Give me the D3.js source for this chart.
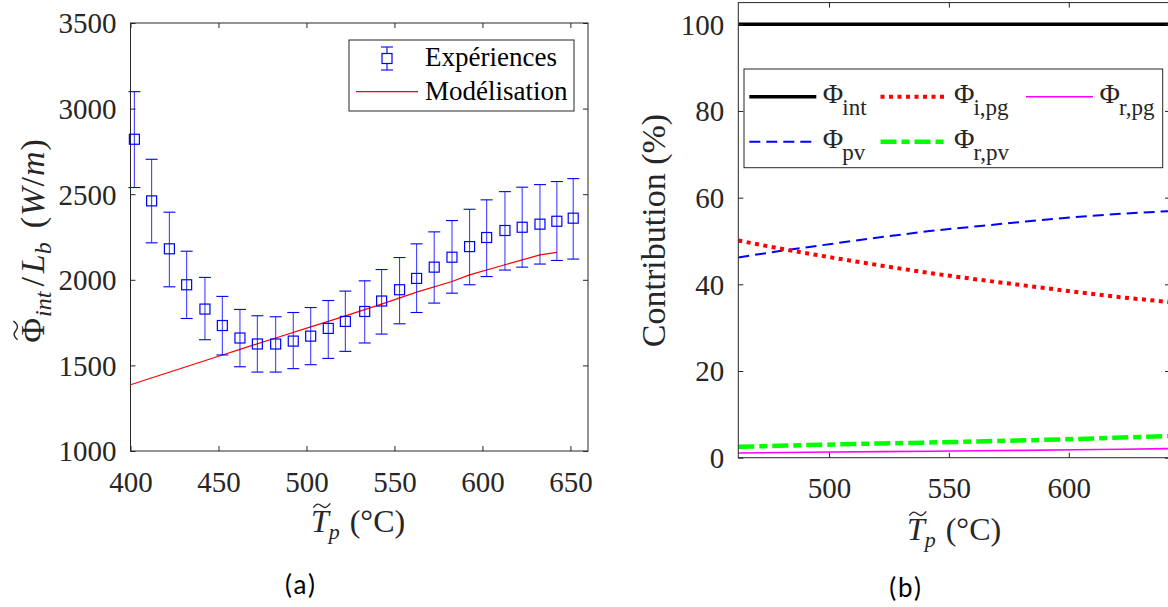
<!DOCTYPE html>
<html><head><meta charset="utf-8">
<script src="https://cdn.jsdelivr.net/npm/d3@7"></script>
<style>
body{margin:0;background:#fff}
svg{display:block}
text, tspan{font-family:"Liberation Serif","Times New Roman",serif;fill:#262626}
</style>
</head><body>
<svg id="c" width="1168" height="607" font-family="Liberation Serif, serif"></svg>
<script>
// ---------- data: panel (a) ----------
const expT    = [402.2,412.0,422.1,431.9,442.3,452.2,462.2,472.1,482.5,492.5,502.4,512.4,522.1,533.1,542.7,552.9,562.6,572.6,582.7,592.7,602.4,612.8,622.6,632.7,642.3,651.6];
const expFlux = [2821,2461,2181,1971,1829,1733,1660,1625,1625,1642,1671,1716,1757,1815,1876,1942,2008,2074,2132,2194,2247,2288,2307,2325,2342,2360];
const expLow  = [2539,2216,1959,1774,1650,1561,1492,1461,1461,1481,1504,1541,1582,1631,1683,1743,1809,1864,1922,1971,2019,2057,2074,2092,2113,2121];
const expHigh = [3099,2704,2395,2167,2014,1903,1827,1790,1784,1809,1838,1879,1934,1994,2060,2130,2210,2280,2346,2412,2467,2515,2541,2556,2574,2591];
const modT    = [400,452.2,462.2,482.5,502.4,512.4,522.1,542.7,562.6,582.7,592.7,612.8,632.7,642.3];
const modFlux = [1387,1561,1594,1660,1725,1757,1789,1858,1928,1990,2029,2088,2146,2160];
const xTicksA = [400,450,500,550,600,650];
const yTicksA = [1000,1500,2000,2500,3000,3500];
const legendA = ["Expériences","Modélisation"];

// ---------- data: panel (b) ----------
const contribT = [462.2,482,502,522,542,562,582,602,622,642.2];
const phiInt = [100,100,100,100,100,100,100,100,100,100];
const phiIpg = [50.1,48.0,46.1,44.3,42.6,41.1,39.7,38.3,37.0,35.9];
const phiRpg = [1.1,1.2,1.3,1.4,1.5,1.6,1.7,1.82,1.95,2.1];
const phiPv  = [46.2,47.9,49.4,50.9,52.3,53.4,54.5,55.5,56.3,56.9];
const phiRpv = [2.5,2.8,3.05,3.3,3.5,3.75,4.0,4.3,4.65,5.0];
const xTicksB = [500,550,600];
const yTicksB = [0,20,40,60,80,100];
const seriesNames = ["int","i,pg","r,pg","pv","r,pv"];

const svg = d3.select("#c");
const AX = "#262626";
const SERIF = '"Liberation Serif","Times New Roman",serif';

function styleAxis(g, fs){
  g.attr("font-family",null);
  g.select(".domain").remove();
  g.selectAll(".tick line").attr("stroke",AX).attr("stroke-width",1);
  g.selectAll(".tick text").attr("font-size",fs).attr("fill",AX).style("font-family",SERIF);
}
function drawFrame(x,y,xt,yt){
  const [x0,x1]=x.range(), [y0,y1]=y.range();
  const gb = svg.append("g").attr("transform",`translate(0,${y0})`)
    .call(d3.axisBottom(x).tickValues(xt).tickSizeInner(-5).tickSizeOuter(0).tickPadding(20).tickFormat(d3.format("d")));
  styleAxis(gb,29);
  const gt = svg.append("g").attr("transform",`translate(0,${y1})`)
    .call(d3.axisTop(x).tickValues(xt).tickSizeInner(-5).tickSizeOuter(0).tickFormat(""));
  styleAxis(gt,29);
  const gl = svg.append("g").attr("transform",`translate(${x0},0)`)
    .call(d3.axisLeft(y).tickValues(yt).tickSizeInner(-5).tickSizeOuter(0).tickPadding(14).tickFormat(d3.format("d")));
  styleAxis(gl,29);
  gl.selectAll(".tick text").attr("dy","0.34em");
  const gr = svg.append("g").attr("transform",`translate(${x1},0)`)
    .call(d3.axisRight(y).tickValues(yt).tickSizeInner(-5).tickSizeOuter(0).tickFormat(""));
  styleAxis(gr,29);
  svg.append("rect").attr("x",x0).attr("y",y1).attr("width",x1-x0).attr("height",y0-y1)
    .attr("fill","none").attr("stroke",AX).attr("stroke-width",1);
}
function tilde(g, cx, yTop, w){
  const h=2.6;
  g.append("path")
    .attr("d",`M${cx-w/2},${yTop+h} C${cx-w/4},${yTop-h*1.2} ${cx-w/8},${yTop-h*0.2} ${cx},${yTop+h*0.4} S${cx+w/4},${yTop+h*1.6} ${cx+w/2},${yTop-h*0.6}`)
    .attr("fill","none").attr("stroke",AX).attr("stroke-width",1.4);
}

// ================= Panel (a) =================
const xA = d3.scaleLinear().domain([400,660]).range([130.5,588]);
const yA = d3.scaleLinear().domain([1000,3500]).range([451,23]);
drawFrame(xA,yA,xTicksA,yTicksA);

const gA = svg.append("g");
gA.append("path").datum(modT.map((t,i)=>[t,modFlux[i]]))
  .attr("d",d3.line().x(d=>xA(d[0])).y(d=>yA(d[1])))
  .attr("fill","none").attr("stroke","#ff0000").attr("stroke-width",1.2);
const eb = gA.selectAll("g.eb").data(expT.map((t,i)=>({t,v:expFlux[i],lo:expLow[i],hi:expHigh[i]}))).join("g");
eb.append("line").attr("x1",d=>xA(d.t)).attr("x2",d=>xA(d.t)).attr("y1",d=>yA(d.lo)).attr("y2",d=>yA(d.hi))
  .attr("stroke","#0000ff").attr("stroke-width",1.1).attr("stroke-opacity",0.75);
eb.append("line").attr("x1",d=>xA(d.t)-6).attr("x2",d=>xA(d.t)+6).attr("y1",d=>yA(d.lo)).attr("y2",d=>yA(d.lo))
  .attr("stroke","#0000ff").attr("stroke-width",1.1);
eb.append("line").attr("x1",d=>xA(d.t)-6).attr("x2",d=>xA(d.t)+6).attr("y1",d=>yA(d.hi)).attr("y2",d=>yA(d.hi))
  .attr("stroke","#0000ff").attr("stroke-width",1.1);
eb.append("rect").attr("x",d=>xA(d.t)-5).attr("y",d=>yA(d.v)-5).attr("width",10).attr("height",10)
  .attr("fill","none").attr("stroke","#0000ff").attr("stroke-width",1.2);

// legend (a)
const LA = {x:349,y:40,w:225,h:71};
const lgA = svg.append("g");
lgA.append("rect").attr("x",LA.x).attr("y",LA.y).attr("width",LA.w).attr("height",LA.h)
  .attr("fill","#fff").attr("stroke",AX).attr("stroke-width",1);
const mx = LA.x+38, my = LA.y+18.5;
lgA.append("line").attr("x1",mx).attr("x2",mx).attr("y1",my-11.5).attr("y2",my+11.5).attr("stroke","#0000ff").attr("stroke-width",1.1);
lgA.append("line").attr("x1",mx-6).attr("x2",mx+6).attr("y1",my-11.5).attr("y2",my-11.5).attr("stroke","#0000ff").attr("stroke-width",1.1);
lgA.append("line").attr("x1",mx-6).attr("x2",mx+6).attr("y1",my+11.5).attr("y2",my+11.5).attr("stroke","#0000ff").attr("stroke-width",1.1);
lgA.append("rect").attr("x",mx-5).attr("y",my-5).attr("width",10).attr("height",10).attr("fill","#fff").attr("stroke","#0000ff").attr("stroke-width",1.2);
lgA.append("line").attr("x1",LA.x+7).attr("x2",LA.x+69).attr("y1",LA.y+51.7).attr("y2",LA.y+51.7).attr("stroke","#ff0000").attr("stroke-width",1.2);
lgA.selectAll("text.lab").data(legendA).join("text").attr("class","lab")
  .attr("x",LA.x+76).attr("y",(d,i)=>LA.y+26+i*34).attr("font-size",27).style("font-family",SERIF).style("fill","#000").text(d=>d);

// y label (a)
{
  const g = svg.append("g").attr("transform",`translate(44,241) rotate(-90)`);
  const t = g.append("text").attr("font-size",34).style("font-family",SERIF);
  t.append("tspan").text("Φ");
  t.append("tspan").attr("font-style","italic").attr("font-size",24).attr("dy",7).attr("dx",1).text("int");
  t.append("tspan").attr("dy",-7).attr("dx",5).text("/");
  t.append("tspan").attr("font-style","italic").attr("dx",4).text("L");
  t.append("tspan").attr("font-style","italic").attr("font-size",24).attr("dy",7).text("b");
  t.append("tspan").attr("dy",-7).attr("dx",14).text("(");
  t.append("tspan").attr("font-style","italic").attr("dx",1).text("W");
  t.append("tspan").attr("dx",1).text("/");
  t.append("tspan").attr("font-style","italic").attr("dx",1).text("m");
  t.append("tspan").attr("dx",1).text(")");
  const bb = t.node().getBBox();
  t.attr("x",-bb.width/2);
  t.select("tspan").attr("x",-bb.width/2);
  const e = t.node().getExtentOfChar(0);
  tilde(g, e.x+e.width/2, e.y+1, e.width*0.75);
}
function xLabel(cx, by){
  const g = svg.append("g");
  const t = g.append("text").attr("x",cx).attr("y",by).attr("text-anchor","middle").attr("font-size",32).style("font-family",SERIF);
  t.append("tspan").attr("font-style","italic").text("T");
  t.append("tspan").attr("font-style","italic").attr("font-size",22).attr("dy",7).text("p");
  t.append("tspan").attr("dy",-7).attr("dx",10).text("(°C)");
  const e = t.node().getExtentOfChar(0);
  tilde(g, e.x+e.width/2+2, e.y+2, e.width*0.95);
}
xLabel(358,532);

// ================= Panel (b) =================
const xB = d3.scaleLinear().domain([462.2,642.2]).range([738.3,1170]);
const yB = d3.scaleLinear().domain([0,105]).range([457.7,2.6]);
svg.append("clipPath").attr("id","clipB").append("rect")
  .attr("x",738.3).attr("y",2.6).attr("width",1170-738.3).attr("height",457.7-2.6);

const styles = [
  {v:phiInt, c:"#000000", w:3.6, da:null},
  {v:phiIpg, c:"#ff0000", w:4,   da:"4,4.5"},
  {v:phiRpg, c:"#ff00ff", w:1.6, da:null},
  {v:phiPv,  c:"#0000ff", w:2,   da:"11,6"},
  {v:phiRpv, c:"#00ff00", w:4.5, da:"16,5,8,5"}
];
const lineB = d3.line().x(d=>xB(d[0])).y(d=>yB(d[1]));
const gB = svg.append("g").attr("clip-path","url(#clipB)");
[2,4,3,1,0].forEach(k=>{
  const s = styles[k];
  gB.append("path").datum(contribT.map((t,i)=>[t,s.v[i]]))
    .attr("d",lineB).attr("fill","none").attr("stroke",s.c).attr("stroke-width",s.w)
    .attr("stroke-dasharray",s.da);
});
drawFrame(xB,yB,xTicksB,yTicksB);

// legend (b)
const LB = {x:744,y:69,w:418.7,h:98.7};
const lgB = svg.append("g");
lgB.append("rect").attr("x",LB.x).attr("y",LB.y).attr("width",LB.w).attr("height",LB.h)
  .attr("fill","#fff").attr("stroke",AX).attr("stroke-width",1);
const colX = [5.3,136.5,282], rowY = [27.7,72.7];
seriesNames.forEach((name,k)=>{
  const s = styles[k];
  const col = k<3 ? k : k-3, row = k<3 ? 0 : 1;
  const lx = LB.x+colX[col], ly = LB.y+rowY[row];
  lgB.append("line").attr("x1",lx).attr("x2",lx+67).attr("y1",ly).attr("y2",ly)
    .attr("stroke",s.c).attr("stroke-width",s.w).attr("stroke-dasharray",s.da);
  const t = lgB.append("text").attr("x",lx+73.5).attr("y",ly+6.5).attr("font-size",28).style("font-family",SERIF);
  t.append("tspan").text("Φ");
  t.append("tspan").attr("font-size",23).attr("dy",11.5).attr("dx",-1).text(name);
});

// y label (b)
svg.append("text").attr("transform","translate(665,230.5) rotate(-90)")
  .attr("text-anchor","middle").attr("font-size",34).style("font-family",SERIF).text("Contribution (%)");
xLabel(954,540);

// captions
svg.append("text").attr("x",301).attr("y",594).attr("text-anchor","middle")
  .style("font-family","Lato, 'Open Sans', sans-serif").style("fill","#000").attr("font-size",26).attr("letter-spacing",2).text("(a)");
svg.append("text").attr("x",906).attr("y",597).attr("text-anchor","middle")
  .style("font-family","Lato, 'Open Sans', sans-serif").style("fill","#000").attr("font-size",26).attr("letter-spacing",2).text("(b)");
</script>
</body></html>
